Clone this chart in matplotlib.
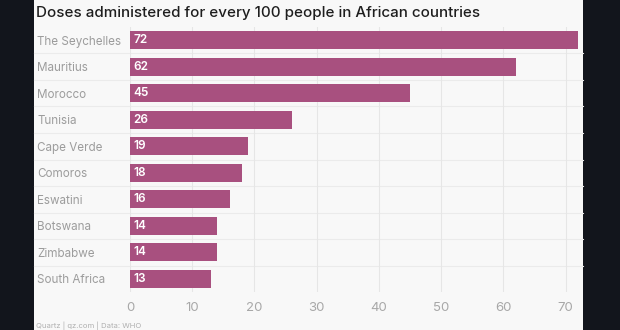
import matplotlib
matplotlib.use("Agg")
import matplotlib.pyplot as plt
from matplotlib.patches import Rectangle
from matplotlib.transforms import blended_transform_factory

# datos del grafico
paises = ["The Seychelles", "Mauritius", "Morocco", "Tunisia", "Cape Verde",
          "Comoros", "Eswatini", "Botswana", "Zimbabwe", "South Africa"]
dosis = [72, 62, 45, 26, 19, 18, 16, 14, 14, 13]
ticks_x = [0, 10, 20, 30, 40, 50, 60, 70]

titulo = "Doses administered for every 100 people in African countries"
fuente = "Quartz | qz.com | Data: WHO"

plt.rcParams['font.family'] = ['Inter', 'DejaVu Sans']

fig = plt.figure(figsize=(6.2, 3.3), dpi=100)
fig.patch.set_facecolor("#12151c")

# panel blanco (por debajo de los ejes)
fig.patches.append(Rectangle((34 / 620, 0), (583 - 34) / 620, 1,
                             transform=fig.transFigure, facecolor="#f8f8f8",
                             edgecolor="none", zorder=-5))

ax = fig.add_axes([130 / 620, 0.1144, (578 - 130) / 620, 0.8045])
ax.set_facecolor("none")

y = list(range(len(paises)))
ax.barh(y, dosis, height=0.68, color="#a8507f", zorder=3)
for yi, v in zip(y, dosis):
    ax.text(0.6, yi, str(v), color="white", fontsize=8.5, va="center",
            ha="left", fontweight="semibold", zorder=4)

ax.set_xlim(0, 72)
ax.set_ylim(len(paises) - 0.5, -0.5)
ax.set_yticks(y)
ax.set_yticklabels(paises, fontsize=8.4, color="#9c9c9c")
ax.set_xticks(ticks_x)
ax.set_xticklabels([str(t) for t in ticks_x], fontsize=9.5, color="#a8a8a8")
ax.tick_params(axis="both", length=0)
ax.tick_params(axis="y", pad=93 * 0.72)
for lab in ax.get_yticklabels():
    lab.set_horizontalalignment("left")
ax.tick_params(axis="x", pad=7)

ax.grid(axis="x", color="#e6e6e6", linewidth=0.8, zorder=0)
for s in ax.spines.values():
    s.set_visible(False)

# separadores entre filas
trans = blended_transform_factory(fig.transFigure, ax.transData)
for yi in y[:-1]:
    ax.plot([34 / 620, 583 / 620], [yi + 0.5, yi + 0.5], transform=trans,
            color="#ebebeb", linewidth=0.8, clip_on=False, zorder=1)

fig.text(36 / 620, 1 - 13 / 330, titulo, fontsize=10.9, color="#1e1e1e",
         va="center", ha="left", fontweight="medium")
fig.text(36 / 620, 1 - 326 / 330, fuente, fontsize=5.5, color="#b0b0b0",
         va="center", ha="left")

fig.savefig("out.png", dpi=100, facecolor=fig.get_facecolor())
